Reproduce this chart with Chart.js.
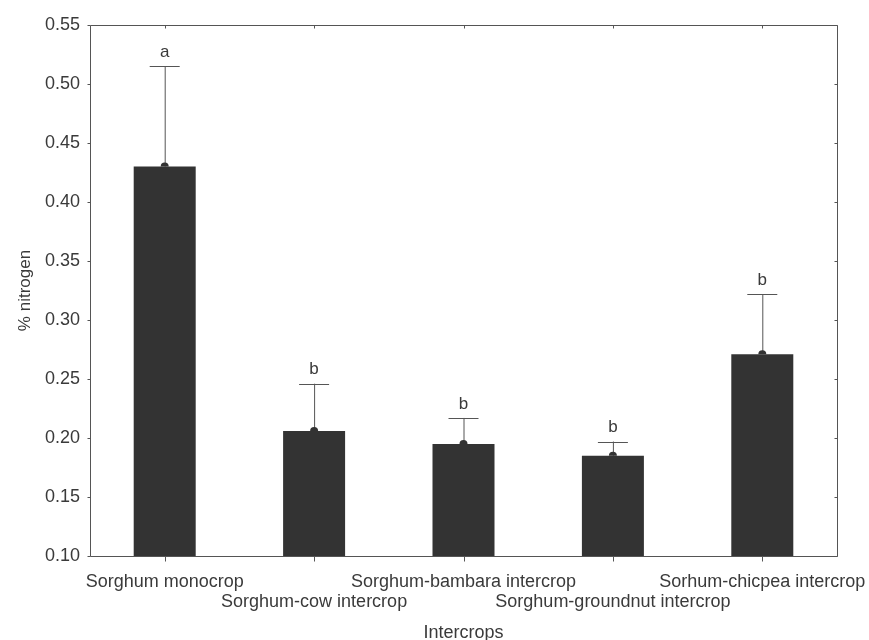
<!DOCTYPE html>
<html>
<head>
<meta charset="utf-8">
<script src="https://cdn.jsdelivr.net/npm/chart.js@4/dist/chart.umd.min.js"></script>
<style>
  html, body { margin: 0; padding: 0; background: #ffffff; }
  #wrap { width: 869px; height: 640px; }
</style>
</head>
<body>
<div id="wrap"><canvas id="chart" width="869" height="640"></canvas></div>
<script>
// Categories (crop systems) along the x axis
const categories = [
  'Sorghum monocrop',
  'Sorghum-cow intercrop',
  'Sorghum-bambara intercrop',
  'Sorghum-groundnut intercrop',
  'Sorhum-chicpea intercrop'
];
// Mean nitrogen content (%)
const nitrogenPct = [0.430, 0.206, 0.195, 0.185, 0.271];
// Upper error (standard error) above each mean
const nitrogenErr = [0.085, 0.040, 0.022, 0.012, 0.051];
// Significance group letters
const groupLetters = ['a', 'b', 'b', 'b', 'b'];
// Y axis range
const yMin = 0.10;
const yMax = 0.55;
const yStep = 0.05;

const FONT = "'Liberation Sans', Arial, Helvetica, sans-serif";
const TEXT = '#3a3a3a';
const BAR = '#333333';
const LINE = '#555555';

// Frame, tick marks, error bars, letters and axis titles
const decorations = {
  id: 'decorations',
  afterDatasetsDraw(chart) {
    const ctx = chart.ctx;
    const y = chart.scales.y;
    const meta = chart.getDatasetMeta(0);
    ctx.save();
    meta.data.forEach((bar, i) => {
      const x = bar.x;
      const yBar = y.getPixelForValue(nitrogenPct[i]);
      const yTop = y.getPixelForValue(nitrogenPct[i] + nitrogenErr[i]);
      ctx.strokeStyle = LINE;
      ctx.lineWidth = 1;
      ctx.beginPath();
      ctx.moveTo(x + 0.5, yBar);
      ctx.lineTo(x + 0.5, yTop);
      ctx.moveTo(x - 15, Math.round(yTop) + 0.5);
      ctx.lineTo(x + 15, Math.round(yTop) + 0.5);
      ctx.stroke();
      // small marker at the mean
      ctx.fillStyle = BAR;
      ctx.beginPath();
      ctx.arc(x, yBar, 4, Math.PI, 2 * Math.PI);
      ctx.fill();
      // group letter
      ctx.fillStyle = TEXT;
      ctx.font = '17px ' + FONT;
      ctx.textAlign = 'center';
      ctx.textBaseline = 'middle';
      ctx.fillText(groupLetters[i], x, yTop - 14);
    });
    ctx.restore();
  },
  afterDraw(chart) {
    const ctx = chart.ctx;
    const a = chart.chartArea;
    const y = chart.scales.y;
    const meta = chart.getDatasetMeta(0);
    ctx.save();
    ctx.strokeStyle = LINE;
    ctx.lineWidth = 1;
    const L = Math.round(a.left) + 0.5, R = Math.round(a.right) + 0.5;
    const T = Math.round(a.top) + 0.5, B = Math.round(a.bottom) + 0.5;
    ctx.beginPath();
    ctx.rect(L, T, R - L, B - T);
    // y ticks on left (outward) and right (inward)
    for (let v = yMin; v <= yMax + 1e-9; v += yStep) {
      const py = Math.round(y.getPixelForValue(v)) + 0.5;
      ctx.moveTo(L - 3, py); ctx.lineTo(L, py);
      ctx.moveTo(R, py); ctx.lineTo(R - 3, py);
    }
    // x ticks at category centres: bottom outward, top inward
    meta.data.forEach(bar => {
      const px = Math.round(bar.x) + 0.5;
      ctx.moveTo(px, B); ctx.lineTo(px, B + 5);
      ctx.moveTo(px, T); ctx.lineTo(px, T + 3);
    });
    ctx.stroke();

    // axis titles
    ctx.fillStyle = TEXT;
    ctx.textAlign = 'center';
    ctx.textBaseline = 'middle';
    ctx.font = '18px ' + FONT;
    ctx.fillText('Intercrops', (a.left + a.right) / 2, 633);
    ctx.translate(25, (a.top + a.bottom) / 2);
    ctx.rotate(-Math.PI / 2);
    ctx.font = '17px ' + FONT;
    ctx.fillText('% nitrogen', 0, 0);
    ctx.restore();
  }
};

new Chart(document.getElementById('chart'), {
  type: 'bar',
  data: {
    labels: categories,
    datasets: [{
      data: nitrogenPct,
      backgroundColor: BAR,
      borderWidth: 0,
      categoryPercentage: 1,
      barPercentage: 0.415
    }]
  },
  options: {
    responsive: false,
    animation: false,
    events: [],
    layout: { padding: { top: 25, right: 32, left: 0, bottom: 0 } },
    plugins: { legend: { display: false }, tooltip: { enabled: false } },
    scales: {
      x: {
        grid: { display: false, drawTicks: false },
        border: { display: false },
        ticks: {
          autoSkip: false,
          maxRotation: 0,
          minRotation: 0,
          padding: 16,
          color: TEXT,
          font: { family: FONT, size: 18, lineHeight: 20 / 18 },
          callback(value, index) {
            const label = categories[index];
            return index % 2 === 0 ? [label, ''] : ['', label];
          }
        },
        afterFit(scale) {
          scale.height = 84;
          scale.paddingLeft = 0;
          scale.paddingRight = 0;
        }
      },
      y: {
        min: yMin,
        max: yMax,
        grid: { display: false, drawTicks: false },
        border: { display: false },
        ticks: {
          stepSize: yStep,
          padding: 10,
          color: TEXT,
          font: { family: FONT, size: 18 },
          callback(value) { return Number(value).toFixed(2); }
        },
        afterFit(scale) {
          scale.width = 90;
          scale.paddingTop = 0;
          scale.paddingBottom = 0;
        }
      }
    }
  },
  plugins: [decorations]
});
</script>
</body>
</html>
